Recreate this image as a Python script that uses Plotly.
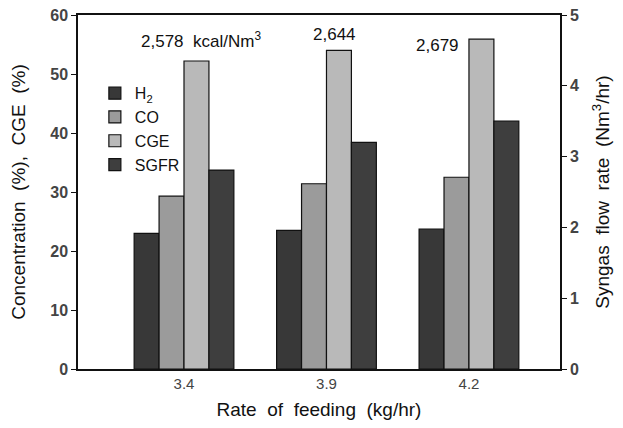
import plotly.graph_objects as go
from plotly.subplots import make_subplots

categories = ["3.4", "3.9", "4.2"]
h2 = [23.0, 23.5, 23.7]
co = [29.3, 31.4, 32.5]
cge = [52.2, 54.0, 55.9]
sgfr = [2.81, 3.20, 3.50]
heating_labels = ["2,578  kcal/Nm<sup>3</sup>", "2,644", "2,679"]

FONT = "Liberation Sans, Arial, sans-serif"
line = dict(color="#111111", width=1.2)

fig = make_subplots(specs=[[{"secondary_y": True}]])
fig.add_trace(go.Bar(x=categories, y=h2, name="H<sub>2</sub>", marker=dict(color="#383838", line=line), offsetgroup="1"), secondary_y=False)
fig.add_trace(go.Bar(x=categories, y=co, name="CO", marker=dict(color="#9b9b9b", line=line), offsetgroup="2"), secondary_y=False)
fig.add_trace(go.Bar(x=categories, y=cge, name="CGE", marker=dict(color="#b9b9b9", line=line), offsetgroup="3"), secondary_y=False)
fig.add_trace(go.Bar(x=categories, y=sgfr, name="SGFR", marker=dict(color="#3e3e3e", line=line), offsetgroup="4"), secondary_y=True)

ann_x = [0.255, 0.533, 0.745]
ann_y = [0.929, 0.944, 0.915]
for t, ax, ay in zip(heating_labels, ann_x, ann_y):
    fig.add_annotation(text=t, x=ax, y=ay, xref="paper", yref="paper", showarrow=False,
                       font=dict(family=FONT, size=17, color="#111111"), xanchor="center", yanchor="middle")

fig.update_layout(
    width=623, height=428,
    margin=dict(l=78, r=63, t=15, b=59, autoexpand=False),
    plot_bgcolor="white", paper_bgcolor="white",
    barmode="group", bargap=0.30, bargroupgap=0,
    showlegend=True,
    legend=dict(x=0.035, y=0.827, xanchor="left", yanchor="top", bgcolor="rgba(0,0,0,0)",
                font=dict(family=FONT, size=16, color="#111111"), tracegroupgap=0, itemwidth=30),
    font=dict(family=FONT),
)
fig.update_xaxes(
    type="category", range=[-0.744, 2.639], automargin=False, domain=[0, 1],
    showline=True, linecolor="#111111", linewidth=1.5, mirror=True,
    ticks="", tickfont=dict(family=FONT, size=15, color="#444444"),
    title=dict(text="Rate  of  feeding  (kg/hr)", font=dict(family=FONT, size=19, color="#111111"), standoff=12),
    showgrid=False,
)
fig.update_yaxes(
    range=[0, 60], dtick=10, showgrid=False, zeroline=False, automargin=False,
    showline=True, linecolor="#111111", linewidth=1.5,
    ticks="outside", ticklen=5, tickcolor="#111111",
    tickfont=dict(family=FONT, size=16, color="#444444", weight="bold"),
    title=dict(text="Concentration  (%),  CGE  (%)", font=dict(family=FONT, size=19, color="#111111"), standoff=20),
    secondary_y=False,
)
fig.update_yaxes(
    range=[0, 5], dtick=1, showgrid=False, zeroline=False, automargin=False,
    showline=True, linecolor="#111111", linewidth=1.5,
    ticks="outside", ticklen=5, tickcolor="#111111",
    tickfont=dict(family=FONT, size=16, color="#444444", weight="bold"),
    title=dict(text="Syngas  flow  rate  (Nm<sup>3</sup>/hr)", font=dict(family=FONT, size=19, color="#111111"), standoff=18),
    secondary_y=True,
)

fig.write_html("out.html", config={"displayModeBar": False},
               post_script="document.body.style.margin='0';")
